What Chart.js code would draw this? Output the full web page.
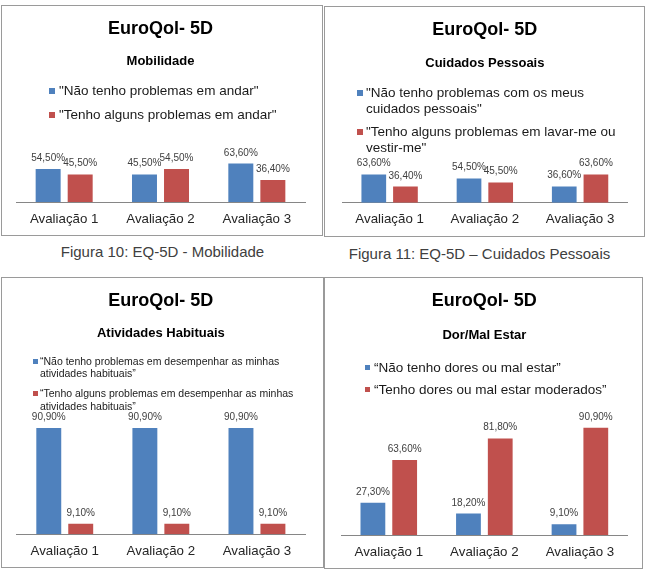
<!DOCTYPE html>
<html>
<head>
<meta charset="utf-8">
<script src="https://cdn.jsdelivr.net/npm/chart.js@4.4.1/dist/chart.umd.min.js"></script>
<style>
  body { margin: 0; background: #fff; font-family: 'Liberation Sans', Arial, sans-serif; }
  .panel { position: absolute; box-sizing: border-box; border: 1px solid #9a9a9a; background: #fff; }
  .panel canvas { position: absolute; left: 0; top: 0; }
  .legend { position: absolute; color: #1a1a1a; }
  .legend .item { display: flex; align-items: flex-start; }
  .legend .mark { flex: none; }
  .caption { position: absolute; text-align: center; font-size: 15px; line-height: 18px; color: #404040; }
</style>
</head>
<body>

<div class="panel" style="left:1px;top:5px;width:322px;height:231px">
  <canvas id="c1" width="320" height="229"></canvas>
  <div class="legend" id="l1"></div>
</div>
<div class="panel" style="left:324px;top:6px;width:321px;height:231px">
  <canvas id="c2" width="319" height="229"></canvas>
  <div class="legend" id="l2"></div>
</div>
<div class="caption" style="left:0px;top:243px;width:325px">Figura 10: EQ-5D - Mobilidade</div>
<div class="caption" style="left:324px;top:245px;width:311px">Figura 11: EQ-5D – Cuidados Pessoais</div>
<div class="panel" style="left:1px;top:277px;width:323px;height:291px">
  <canvas id="c3" width="321" height="289"></canvas>
  <div class="legend" id="l3"></div>
</div>
<div class="panel" style="left:324px;top:277px;width:319px;height:292px">
  <canvas id="c4" width="317" height="290"></canvas>
  <div class="legend" id="l4"></div>
</div>

<script>
// data
const categories = ['Avaliação 1', 'Avaliação 2', 'Avaliação 3'];

const mobSeries = ['"Não tenho problemas em andar"', '"Tenho alguns problemas em andar"'];
const mobSem = [54.5, 45.5, 63.6];
const mobCom = [45.5, 54.5, 36.4];

const cuidSeries = ['"Não tenho problemas com os meus cuidados pessoais"', '"Tenho alguns problemas em lavar-me ou vestir-me"'];
const cuidSem = [63.6, 54.5, 36.6];
const cuidCom = [36.4, 45.5, 63.6];

const ativSeries = ['“Não tenho problemas em desempenhar as minhas atividades habituais”', '“Tenho alguns problemas em desempenhar as minhas atividades habituais”'];
const ativSem = [90.9, 90.9, 90.9];
const ativCom = [9.1, 9.1, 9.1];

const dorSeries = ['“Não tenho dores ou mal estar”', '“Tenho dores ou mal estar moderados”'];
const dorSem = [27.3, 18.2, 9.1];
const dorCom = [63.6, 81.8, 90.9];

Chart.defaults.font.family = "'Liberation Sans', Arial, sans-serif";
Chart.defaults.color = '#262626';

function fmt(v) {
  return v.toFixed(2).replace('.', ',') + '%';
}

// value over each bar
const valueLabels = {
  id: 'valueLabels',
  afterDatasetsDraw(chart) {
    const ctx = chart.ctx;
    ctx.save();
    ctx.font = "10px 'Liberation Sans', Arial, sans-serif";
    ctx.fillStyle = '#404040';
    ctx.textAlign = 'center';
    ctx.textBaseline = 'alphabetic';
    chart.data.datasets.forEach((ds, i) => {
      chart.getDatasetMeta(i).data.forEach((bar, j) => {
        ctx.fillText(fmt(ds.data[j]), bar.x, bar.y - 8);
      });
    });
    ctx.restore();
  }
};

// legend as a vertical list, like the Excel one
const htmlLegend = {
  id: 'htmlLegend',
  afterUpdate(chart, args, opts) {
    const box = document.getElementById(opts.containerID);
    const s = opts.box;
    box.innerHTML = '';
    box.style.left = s.left + 'px';
    box.style.top = s.top + 'px';
    box.style.fontSize = s.font + 'px';
    box.style.lineHeight = s.lh + 'px';
    chart.data.datasets.forEach((ds, i) => {
      let item = document.createElement('div');
      item.className = 'item';
      if (i > 0) item.style.marginTop = s.gap + 'px';
      let mark = document.createElement('span');
      mark.className = 'mark';
      mark.style.width = s.mark + 'px';
      mark.style.height = s.mark + 'px';
      mark.style.background = ds.backgroundColor;
      mark.style.marginTop = ((s.lh - s.mark) / 2) + 'px';
      mark.style.marginRight = s.markGap + 'px';
      let txt = document.createElement('span');
      txt.textContent = ds.label;
      if (s.maxWidth) txt.style.maxWidth = s.maxWidth + 'px';
      else txt.style.whiteSpace = 'nowrap';
      item.appendChild(mark);
      item.appendChild(txt);
      box.appendChild(item);
    });
  }
};

function makeChart(id, legendId, subtitle, names, serieA, serieB, f, legendBox) {
  const canvas = document.getElementById(id);
  const W = canvas.width, H = canvas.height;
  const tickPad = 9;
  const tTop = f.titleY - 10.8 + 1;
  const sTop = f.subY - 7.8 + 0.6;
  return new Chart(canvas, {
    type: 'bar',
    data: {
      labels: categories,
      datasets: [
        { label: names[0], data: serieA, backgroundColor: '#4F81BD' },
        { label: names[1], data: serieB, backgroundColor: '#C0504D' }
      ]
    },
    options: {
      responsive: false,
      animation: false,
      layout: { padding: { top: 0, left: f.left, right: W - f.right, bottom: H - f.bottom - 15.96 - 2 * tickPad } },
      datasets: { bar: { categoryPercentage: 0.665, barPercentage: 0.78 } },
      plugins: {
        title: { display: true, text: 'EuroQol- 5D', color: '#000', font: { size: 18, weight: 'bold' },
                 padding: { top: tTop, bottom: sTop - tTop - 21.6 } },
        subtitle: { display: true, text: subtitle, color: '#000', font: { size: 13, weight: 'bold' },
                    padding: { top: 0, bottom: f.top - sTop - 15.6 } },
        legend: { display: false },
        tooltip: { enabled: false },
        htmlLegend: { containerID: legendId, box: legendBox }
      },
      scales: {
        x: {
          grid: { display: false, drawTicks: false },
          border: { display: true, color: '#868686' },
          ticks: { padding: tickPad, font: { size: 13.3 }, color: '#262626' }
        },
        y: { display: false, min: 0, max: 100 }
      }
    },
    plugins: [valueLabels, htmlLegend]
  });
}

makeChart('c1', 'l1', 'Mobilidade', mobSeries, mobSem, mobCom,
  { titleY: 22, subY: 55, top: 135.5, bottom: 196, left: 14, right: 303 },
  { left: 47, top: 77, font: 13.5, lh: 15.6, gap: 8.7, mark: 6, markGap: 4 });

makeChart('c2', 'l2', 'Cuidados Pessoais', cuidSeries, cuidSem, cuidCom,
  { titleY: 22.3, subY: 55.7, top: 151.2, bottom: 195.7, left: 17, right: 302.7 },
  { left: 32, top: 78, font: 13.5, lh: 15.6, gap: 7.8, mark: 6, markGap: 3, maxWidth: 262 });

makeChart('c3', 'l3', 'Atividades Habituais', ativSeries, ativSem, ativCom,
  { titleY: 22, subY: 54.7, top: 139.3, bottom: 256.3, left: 14.7, right: 303 },
  { left: 31, top: 77, font: 10.5, lh: 12.3, gap: 7.7, mark: 5, markGap: 2, maxWidth: 265 });

makeChart('c4', 'l4', 'Dor/Mal Estar', dorSeries, dorSem, dorCom,
  { titleY: 22, subY: 57, top: 139, bottom: 257, left: 16, right: 302.7 },
  { left: 40, top: 81.5, font: 13.5, lh: 15.6, gap: 7.1, mark: 5, markGap: 4 });
</script>
</body>
</html>
